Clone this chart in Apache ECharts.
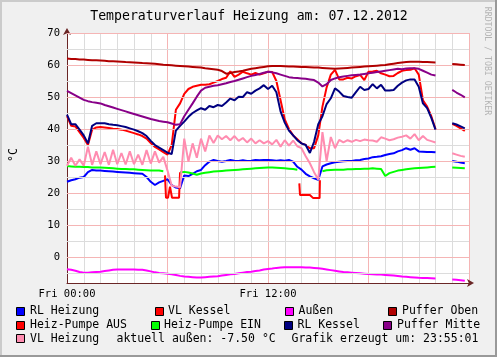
<!DOCTYPE html>
<html>
<head>
<meta charset="utf-8">
<script src="https://cdn.jsdelivr.net/npm/echarts@6/dist/echarts.min.js"></script>
<style>html,body{margin:0;padding:0;background:#f0f0f0;}#c{width:497px;height:357px;}</style>
</head>
<body>
<div id="c"></div>
<script>
// hours of the day (Fri 07.12.2012)
var times = [0,0.25,0.5,0.75,1,1.25,1.5,1.75,2,2.25,2.5,2.75,3,3.25,3.5,3.75,4,4.25,4.5,4.75,5,5.25,5.5,5.75,6,6.25,6.5,6.75,7,7.25,7.5,7.75,8,8.25,8.5,8.75,9,9.25,9.5,9.75,10,10.25,10.5,10.75,11,11.25,11.5,11.75,12,12.25,12.5,12.75,13,13.25,13.5,13.75,14,14.25,14.5,14.75,15,15.25,15.5,15.75,16,16.25,16.5,16.75,17,17.25,17.5,17.75,18,18.25,18.5,18.75,19,19.25,19.5,19.75,20,20.25,20.5,20.75,21,21.25,21.5,21.75,22,22.25,22.5,22.75,23,23.25,23.5,23.75];

var rlHeizung = [23.5,24.0,24.3,24.8, 25.0,26.5,27.2,27.0, 27.0,26.9,26.8,26.7, 26.6,26.5,26.4,26.3, 26.2,26.1,26.0,25.0, 23.5,22.5,23.3,23.8, 24.3,22.5,21.7,21.5, 25.5,25.3,26.0,26.8, 27.2,28.7,29.8,30.3, 30.0,29.8,30.0,30.3, 30.1,30.0,30.2,30.0, 30.1,30.3,30.2,30.3, 30.3,30.2,30.1,30.2, 30.1,30.3,29.8,28.2, 27.3,26.0,25.2,24.6, 24.1,28.3,28.9,29.3, 29.6,29.8,29.9,30.0, 30.0,30.2,30.3,30.6, 30.8,31.2,31.3,31.5, 31.9,32.2,32.4,33.0, 33.4,34.0,33.5,34.0, 33.0,32.9,32.8,32.8, 32.7,null,null,null, 30.0,29.8,29.5,29.3];

var vlKessel = [44.0,41.0,40.8,39.0, 37.2,35.0,39.8,40.5, 40.6,40.5,40.3,40.1, 40.0,39.8,39.5,39.1, 38.7,38.3,37.8,37.0, 35.6,34.4,33.6,32.8, 32.0,35.0,46.0,48.0, 51.0,52.5,53.2,53.5, 53.8,53.8,54.0,54.5, 55.0,55.6,56.0,58.0, 56.3,57.0,57.9,57.4, 57.0,57.5,57.0,57.4, 57.9,57.8,55.0,49.0, 43.0,40.0,38.0,36.8, 35.5,35.0,34.0,34.0, 38.0,47.0,53.0,57.0, 58.5,55.5,55.5,56.0, 55.8,56.5,56.9,55.3, 57.9,58.0,58.2,57.4, 57.0,56.5,56.6,57.5, 58.2,58.4,58.5,59.0, 57.0,49.0,47.0,44.0, 40.0,null,null,null, 41.6,41.0,40.2,39.4];

var aussen = [-3.8,-4.0,-4.3,-4.7, -4.9,-4.9,-4.8,-4.7, -4.6,-4.4,-4.2,-4.0, -3.9,-3.9,-3.9,-3.9, -3.9,-4.0,-4.0,-4.2, -4.5,-4.8,-5.0,-5.1, -5.2,-5.4,-5.6,-5.9, -6.1,-6.2,-6.3,-6.4, -6.4,-6.3,-6.2,-6.1, -6.0,-5.8,-5.6,-5.4, -5.3,-5.1,-4.9,-4.7, -4.6,-4.4,-4.2,-3.9, -3.75,-3.6,-3.4,-3.3, -3.2,-3.2,-3.2,-3.2, -3.2,-3.3,-3.3,-3.4, -3.5,-3.7,-3.9,-4.1, -4.3,-4.5,-4.7,-4.8, -4.9,-5.0,-5.1,-5.2, -5.3,-5.4,-5.45,-5.5, -5.6,-5.7,-5.8,-5.95, -6.1,-6.2,-6.3,-6.4, -6.5,-6.55,-6.6,-6.65, -6.7,null,null,null, -7.0,-7.1,-7.25,-7.4];

var pufferOben = [62.0,61.9,61.85,61.75, 61.7,61.6,61.5,61.45, 61.4,61.3,61.2,61.15, 61.1,61.0,60.9,60.85, 60.8,60.7,60.6,60.55, 60.5,60.4,60.25,60.1, 60.0,59.9,59.8,59.7, 59.6,59.5,59.4,59.3, 59.2,59.0,58.85,58.7, 58.5,58.1,57.3,57.5, 57.8,58.0,58.2,58.5, 58.8,59.0,59.2,59.4, 59.6,59.7,59.7,59.65, 59.6,59.55,59.5,59.45, 59.4,59.35,59.3,59.25, 59.2,59.1,59.0,58.9, 58.8,58.9,59.0,59.1, 59.2,59.3,59.4,59.5, 59.6,59.7,59.8,59.9, 60.0,60.2,60.4,60.6, 60.8,60.9,61.0,61.0, 61.0,60.95,60.9,60.85, 60.8,null,null,null, 60.3,60.2,60.1,60.0];

// Heiz-Pumpe AUS only exists while the pump is off (own time stamps)
var pumpeAusTimes  = [5.85,5.91,6.03,6.15,6.27,6.69,6.75, 10, 13.87,13.91,14.5,14.6,14.7,15.08,15.1];
var pumpeAusValues = [25.5,18.5,18.5,22.0,18.5,18.5,26.5, null, 23.0,19.4,19.4,20.0,18.4,18.4,24.0];

var pumpeEin = [28.4,28.3,28.2,28.2, 28.1,28.1,28.0,28.0, 28.0,27.9,27.8,27.7, 27.6,27.5,27.5,27.4, 27.4,27.3,27.2,27.1, 27.0,27.0,27.0,26.8, null,null,null,26.5, 26.6,26.4,26.1,25.7, 26.1,26.3,26.5,26.7, 26.8,26.9,27.0,27.1, 27.2,27.3,27.4,27.5, 27.6,27.7,27.8,27.9, 28.0,28.0,27.9,27.8, 27.7,27.6,27.5,27.3, null,null,null,null, null,26.8,27.1,27.2, 27.3,27.3,27.3,27.4, 27.4,27.5,27.5,27.6, 27.6,27.7,27.6,27.5, 25.3,26.2,26.6,27.0, 27.2,27.4,27.6,27.7, 27.8,27.9,28.0,28.1, 28.2,null,null,null, 28.0,27.9,27.8,27.7];

var rlKessel = [44.5,41.5,41.5,39.8, 38.0,35.5,41.0,41.8, 41.8,41.8,41.5,41.3, 41.2,40.9,40.6,40.2, 39.8,39.3,38.7,37.8, 36.3,35.0,34.2,33.4, 32.6,32.2,39.5,41.0, 42.3,43.8,45.0,45.8, 46.5,46.0,47.2,46.8, 47.5,47.2,48.3,49.5, 49.0,50.1,50.0,51.5, 51.0,52.0,52.7,53.7, 52.5,53.5,51.5,45.5, 42.0,39.5,38.0,36.5, 35.5,35.0,32.5,36.0, 41.5,44.0,47.8,49.6, 52.7,51.7,50.3,50.0, 49.8,51.5,53.2,52.2, 52.5,54.0,52.7,53.8, 52.0,52.0,52.2,53.5, 54.5,55.2,55.5,55.5, 53.2,48.0,46.5,43.5, 39.8,null,null,null, 41.8,41.4,40.8,40.2];

var pufferMitte = [51.9,51.2,50.5,49.8, 49.1,48.7,48.4,48.2, 48.0,47.5,47.1,46.7, 46.3,45.9,45.5,45.1, 44.7,44.3,43.9,43.5, 43.1,42.8,42.5,42.3, 42.1,41.7,41.3,41.5, 44.0,46.0,48.0,50.1, 52.0,52.9,53.2,53.5, 53.7,54.0,54.3,54.7, 55.0,55.4,55.8,56.2, 56.6,56.9,57.2,57.6, 57.9,57.7,57.4,57.0, 56.6,56.2,56.0,55.9, 55.8,55.7,55.5,55.3, 54.5,53.3,54.0,55.3, 55.8,56.2,56.4,56.6, 56.8,56.9,57.0,57.2, 57.4,57.6,57.8,58.0, 58.2,58.4,58.6,58.8, 58.7,58.9,59.0,59.0, 58.8,58.2,57.6,57.0, 56.7,null,null,null, 52.2,51.4,50.7,49.9];

var vlHeizung = [28.5,31.0,28.5,30.5, 28.5,34.5,28.8,33.0, 29.0,32.8,28.8,33.5, 29.0,32.5,28.9,33.0, 29.0,32.0,28.8,33.4, 29.2,33.0,29.5,31.3, 27.0,22.3,22.0,21.8, 37.0,29.8,35.5,31.0, 37.0,33.0,38.0,35.6, 38.0,36.8,37.8,36.5, 37.8,36.3,37.2,35.8, 37.0,35.5,36.5,35.5, 36.2,35.2,36.6,34.5, 36.5,34.8,36.4,34.6, 34.0,31.5,29.3,26.5, 24.2,39.0,30.0,37.5, 34.0,36.6,35.8,36.5, 36.0,36.6,36.2,36.7, 36.5,36.4,36.0,37.4, 37.0,36.5,36.8,37.3, 37.6,38.0,37.0,38.4, 36.5,37.8,36.6,36.2, 35.8,null,null,null, 32.4,32.0,31.6,31.3];

var seriesNames  = ['RL Heizung','VL Kessel','Außen','Puffer Oben','Heiz-Pumpe AUS','Heiz-Pumpe EIN','RL Kessel','Puffer Mitte','VL Heizung'];
var seriesColors = ['#0000ff','#ff0000','#ff00ff','#b00000','#ff0000','#00ff00','#000080','#880088','#ff8cb0'];

var yLabelValues = [0,10,20,30,40,50,60,70];
var yMajorLines = [0,10,20,30,40,50,60,70];
var yMinorLines = [-5,5,15,25,35,45,55,65];
var xLabelHours = [0,12];
var xLabelTexts = ['Fri 00:00','Fri 12:00'];

var titleText = 'Temperaturverlauf Heizung am: 07.12.2012';
var infoAussen = 'aktuell außen: -7.50 °C';
var infoZeit = 'Grafik erzeugt um: 23:55:01';

function pairs(ts, vs){
  return ts.map(function(t,i){ var v = vs[i]; return [t, (v === null || v === undefined) ? '-' : v]; });
}
var allValues = [
  pairs(times, rlHeizung), pairs(times, vlKessel), pairs(times, aussen), pairs(times, pufferOben),
  pairs(pumpeAusTimes, pumpeAusValues), pairs(times, pumpeEin), pairs(times, rlKessel),
  pairs(times, pufferMitte), pairs(times, vlHeizung)
];

var FONT = 'DejaVu Sans Mono';
var AXIS_COLOR = '#6a2626';
var chart = echarts.init(document.getElementById('c'), null, {renderer:'canvas'});

var gridMarks = [];
yMinorLines.forEach(function(v){ gridMarks.push({yAxis:v, lineStyle:{color:'#dcdcdc', width:1, type:'solid'}}); });
yMajorLines.forEach(function(v){ gridMarks.push({yAxis:v, lineStyle:{color:'#f5b5b5', width:1, type:'solid'}}); });

var series = [{
  type:'line', data:[], silent:true, z:1,
  markLine:{silent:true, symbol:['none','none'], label:{show:false}, animation:false, data:gridMarks}
}];
seriesNames.forEach(function(n,i){
  series.push({
    name:n, type:'line', data:allValues[i], showSymbol:false, symbol:'none',
    connectNulls:false, lineStyle:{color:seriesColors[i], width:2}, itemStyle:{color:seriesColors[i]},
    animation:false, z:2+i
  });
});

// legend layout (rows)
var legendItems = [
  {i:0, sx:16, tx:30, y:311.5}, {i:1, sx:155, tx:168, y:311.5}, {i:2, sx:285, tx:298.5, y:311.5}, {i:3, sx:388, tx:402, y:311.5},
  {i:4, sx:16, tx:30, y:325.5}, {i:5, sx:151, tx:164, y:325.5}, {i:6, sx:284, tx:297.5, y:325.5}, {i:7, sx:383, tx:397, y:325.5},
  {i:8, sx:16, tx:30, y:339}
];
var graphics = [
  {type:'rect', shape:{x:0,y:0,width:497,height:2}, style:{fill:'#cbcbcb'}, z:100},
  {type:'rect', shape:{x:0,y:0,width:2,height:357}, style:{fill:'#cbcbcb'}, z:100},
  {type:'rect', shape:{x:495,y:0,width:2,height:357}, style:{fill:'#999999'}, z:101},
  {type:'rect', shape:{x:0,y:355,width:497,height:2}, style:{fill:'#999999'}, z:101},
  {type:'text', x:249, y:16.5, style:{text:titleText, font:'13.2px "DejaVu Sans Mono"', fill:'#000', align:'center', verticalAlign:'middle'}},
  {type:'text', x:487, y:61, rotation:-Math.PI/2, style:{text:'RRDTOOL / TOBI OETIKER', font:'8.2px "DejaVu Sans Mono"', fill:'#b4b4b4', align:'center', verticalAlign:'middle'}},
  {type:'text', x:14, y:155, rotation:Math.PI/2, style:{text:'°C', font:'11.5px "DejaVu Sans Mono"', fill:'#000', align:'center', verticalAlign:'middle'}},
  {type:'text', x:116.5, y:339, style:{text:infoAussen, font:'11.5px "DejaVu Sans Mono"', fill:'#000', align:'left', verticalAlign:'middle'}},
  {type:'text', x:291.5, y:339, style:{text:infoZeit, font:'11.5px "DejaVu Sans Mono"', fill:'#000', align:'left', verticalAlign:'middle'}}
];
legendItems.forEach(function(it){
  graphics.push({type:'rect', shape:{x:it.sx+0.5, y:Math.round(it.y)-4.5, width:8, height:8}, style:{fill:seriesColors[it.i], stroke:'#000', lineWidth:1}});
  graphics.push({type:'text', x:it.tx, y:it.y, style:{text:seriesNames[it.i], font:'11.5px "DejaVu Sans Mono"', fill:'#000', align:'left', verticalAlign:'middle'}});
});

chart.setOption({
  backgroundColor:'#f0f0f0',
  animation:false,
  grid:{left:67, top:33, width:402, height:250, show:true, backgroundColor:'#ffffff', borderWidth:0, containLabel:false},
  xAxis:{
    type:'value', min:0, max:24, interval:6,
    axisLine:{show:true, onZero:false, lineStyle:{color:AXIS_COLOR, width:1}, symbol:['none','arrow'], symbolSize:[6,7], symbolOffset:[0,5]},
    axisTick:{show:false},
    axisLabel:{customValues:xLabelHours, margin:6, color:'#000', fontFamily:FONT, fontSize:10.5,
      formatter:function(v){ var k = xLabelHours.indexOf(v); return k >= 0 ? xLabelTexts[k] : ''; }},
    splitLine:{show:true, lineStyle:{color:'#f5b5b5', width:1}},
    minorTick:{show:false, splitNumber:6},
    minorSplitLine:{show:true, lineStyle:{color:'#dcdcdc', width:1}}
  },
  yAxis:{
    type:'value', min:-8.125, max:70,
    axisLine:{show:true, onZero:false, lineStyle:{color:AXIS_COLOR, width:1}, symbol:['none','arrow'], symbolSize:[6,7], symbolOffset:[0,5]},
    axisTick:{show:false},
    axisLabel:{customValues:yLabelValues, margin:7, color:'#000', fontFamily:FONT, fontSize:10.5},
    splitLine:{show:false}
  },
  graphic:graphics,
  series:series
});
</script>
</body>
</html>
